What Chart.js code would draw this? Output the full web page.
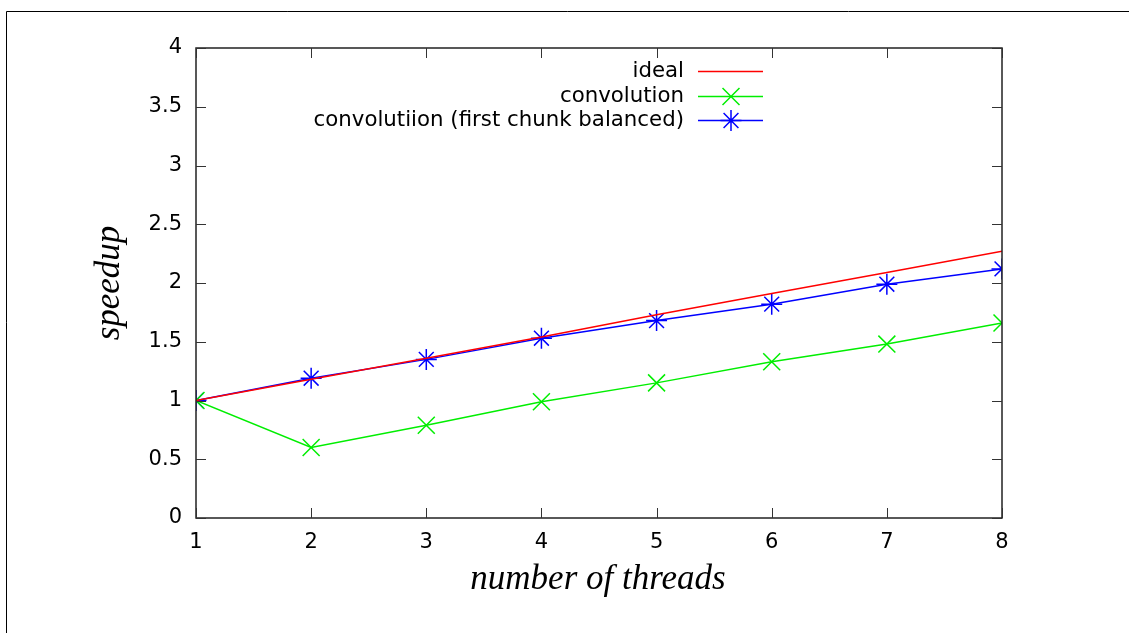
<!DOCTYPE html>
<html>
<head>
<meta charset="utf-8">
<script src="https://cdn.jsdelivr.net/npm/chart.js@4/dist/chart.umd.min.js"></script>
<style>
html,body{margin:0;padding:0;background:#fff;}
#wrap{width:1129px;height:633px;}
</style>
</head>
<body>
<div id="wrap"><canvas id="c" width="1129" height="633"></canvas></div>
<script>
const threads = [1, 2, 3, 4, 5, 6, 7, 8];
const idealSpeedup = [1, 1.18, 1.36, 1.54, 1.73, 1.91, 2.09, 2.27];
const convolutionSpeedup = [1, 0.60, 0.79, 0.99, 1.15, 1.33, 1.48, 1.66];
const balancedSpeedup = [1, 1.19, 1.35, 1.53, 1.68, 1.82, 1.99, 2.12];
const yTicks = [0, 0.5, 1, 1.5, 2, 2.5, 3, 3.5, 4];
const seriesNames = ['ideal', 'convolution', 'convolutiion (first chunk balanced)'];
const xTitle = 'number of threads';
const yTitle = 'speedup';

const toXY = (vals) => vals.map((v, i) => ({x: threads[i], y: v}));

const frame = {
  id: 'frame',
  afterDraw(chart) {
    const {ctx, chartArea: a, scales} = chart;
    ctx.save();
    // outer partial border
    ctx.strokeStyle = '#000';
    ctx.lineWidth = 1;
    ctx.beginPath();
    ctx.moveTo(6.5, 633); ctx.lineTo(6.5, 11.5); ctx.lineTo(1129, 11.5);
    ctx.stroke();
    // plot frame
    ctx.strokeStyle = '#222';
    ctx.lineWidth = 1.5;
    ctx.strokeRect(a.left, a.top, a.right - a.left, a.bottom - a.top);
    // inward ticks
    ctx.lineWidth = 1;
    ctx.strokeStyle = '#333';
    ctx.beginPath();
    threads.forEach(t => {
      const px = Math.round(scales.x.getPixelForValue(t)) + 0.5;
      ctx.moveTo(px, a.bottom); ctx.lineTo(px, a.bottom - 10);
      ctx.moveTo(px, a.top); ctx.lineTo(px, a.top + 10);
    });
    yTicks.forEach(t => {
      const py = Math.round(scales.y.getPixelForValue(t)) + 0.5;
      ctx.moveTo(a.left, py); ctx.lineTo(a.left + 10, py);
      ctx.moveTo(a.right, py); ctx.lineTo(a.right - 10, py);
    });
    ctx.stroke();
    // axis titles
    ctx.fillStyle = '#000';
    ctx.font = 'italic 35px "Liberation Serif"';
    ctx.textAlign = 'center';
    ctx.textBaseline = 'middle';
    ctx.fillText(xTitle, 598, 580);
    ctx.save();
    ctx.translate(110, 283);
    ctx.rotate(-Math.PI / 2);
    ctx.fillText(yTitle, 0, 0);
    ctx.restore();
    // legend
    const rows = [71, 96, 120];
    ctx.font = '21.3px "DejaVu Sans"';
    ctx.textAlign = 'right';
    chart.data.datasets.forEach((ds, i) => {
      const y = rows[i];
      ctx.fillStyle = '#000';
      ctx.fillText(ds.label, 684, y);
      ctx.strokeStyle = ds.borderColor;
      ctx.lineWidth = 1.5;
      ctx.beginPath();
      ctx.moveTo(698, y + 0.5); ctx.lineTo(763, y + 0.5);
      ctx.stroke();
      if (ds.pointStyle && ds.pointRadius > 0) {
        Chart.helpers.drawPoint(ctx, {pointStyle: ds.pointStyle, radius: ds.pointRadius, borderWidth: 1.5}, 731, y + 0.5);
      }
    });
    ctx.restore();
  }
};

new Chart(document.getElementById('c'), {
  type: 'line',
  data: {
    datasets: [
      {label: seriesNames[0], data: toXY(idealSpeedup), borderColor: '#ff0000', backgroundColor: '#ff0000', borderWidth: 1.5, pointRadius: 0, pointStyle: false, tension: 0},
      {label: seriesNames[1], data: toXY(convolutionSpeedup), borderColor: '#00ee00', backgroundColor: '#00ee00', borderWidth: 1.5, pointRadius: 12, pointStyle: 'crossRot', pointBorderWidth: 1.5, tension: 0},
      {label: seriesNames[2], data: toXY(balancedSpeedup), borderColor: '#0000ff', backgroundColor: '#0000ff', borderWidth: 1.5, pointRadius: 10.5, pointStyle: 'star', pointBorderWidth: 1.5, tension: 0}
    ]
  },
  options: {
    responsive: false,
    animation: false,
    devicePixelRatio: 1,
    layout: {padding: {left: 0, right: 127, top: 48, bottom: 0}},
    plugins: {legend: {display: false}, tooltip: {enabled: false}},
    scales: {
      x: {
        type: 'linear', min: 1, max: 8,
        afterBuildTicks(s) { s.ticks = threads.map(v => ({value: v})); },
        afterFit(s) { s.height = 115; },
        grid: {display: false, drawTicks: false},
        border: {display: false},
        ticks: {color: '#000', font: {family: 'DejaVu Sans', size: 21}, padding: 12, callback: v => String(v)}
      },
      y: {
        type: 'linear', min: 0, max: 4,
        afterBuildTicks(s) { s.ticks = yTicks.map(v => ({value: v})); },
        afterFit(s) { s.width = 196; },
        grid: {display: false, drawTicks: false},
        border: {display: false},
        ticks: {color: '#000', font: {family: 'DejaVu Sans', size: 21}, padding: 14, callback: v => String(v)}
      }
    }
  },
  plugins: [frame]
});
</script>
</body>
</html>
